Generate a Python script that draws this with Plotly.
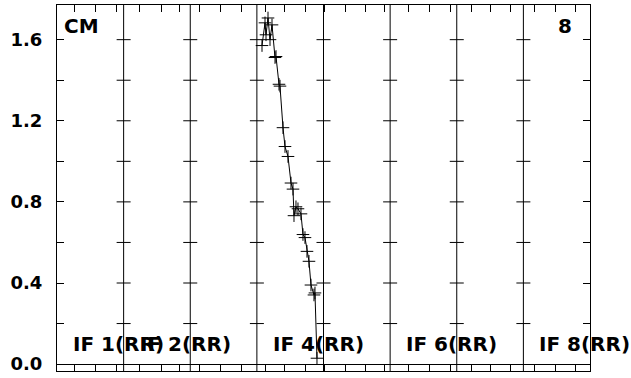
import plotly.graph_objects as go

# ---- data ----
panel_labels = ["IF 1(RR)", "IF 2(RR)", "IF 4(RR)", "IF 6(RR)", "IF 8(RR)"]
panel_label_pos = [0, 1, 3, 5, 7]          # panel index where each label sits
n_panels = 8

# curve (x in panel units: panel k spans k..k+1)
x_vals = [3.077, 3.122, 3.137, 3.167, 3.197, 3.227, 3.272, 3.287, 3.332, 3.347,
          3.392, 3.422, 3.467, 3.512, 3.542, 3.557, 3.587, 3.617, 3.662, 3.692,
          3.722, 3.752, 3.782, 3.812, 3.857, 3.872, 3.902]
y_vals = [1.571, 1.683, 1.624, 1.707, 1.600, 1.673, 1.512, 1.517, 1.380, 1.371,
          1.166, 1.073, 1.024, 0.893, 0.863, 0.732, 0.776, 0.766, 0.741, 0.639,
          0.624, 0.556, 0.507, 0.390, 0.341, 0.351, 0.029]

x_ticks = [0.270, 0.585, 0.886, 1.231, 1.561, 1.846, 2.146, 2.447, 2.762,
           3.122, 3.422, 3.737, 4.022, 4.323, 4.623, 4.923, 5.283, 5.598,
           5.899, 6.214, 6.499, 6.814, 7.174, 7.475, 7.775]
y_ticks = [0.0, 0.2, 0.4, 0.6, 0.8, 1.0, 1.2, 1.4, 1.6]
y_ticktext = ["0.0", "", "0.4", "", "0.8", "", "1.2", "", "1.6"]

y_range = [-0.034, 1.771]
FONT = "DejaVu Sans"

fig = go.Figure()
fig.add_trace(go.Scatter(
    x=x_vals, y=y_vals, mode="lines+markers",
    line=dict(color="black", width=1),
    marker=dict(symbol="cross-thin", size=9, color="black",
                line=dict(color="black", width=1)),
    showlegend=False, hoverinfo="skip"))

shapes = []
for b in range(1, n_panels):
    shapes.append(dict(type="line", xref="x", yref="y", x0=b, x1=b,
                       y0=y_range[0], y1=y_range[1],
                       line=dict(color="black", width=1)))
    for yv in y_ticks[1:]:
        shapes.append(dict(type="line", xref="x", yref="y",
                           xsizemode="pixel", xanchor=b, x0=-7, x1=7,
                           y0=yv, y1=yv, line=dict(color="black", width=1)))

annotations = []
for lab, p in zip(panel_labels, panel_label_pos):
    annotations.append(dict(text="<b>%s</b>" % lab, x=p, y=0.10, xref="x", yref="y",
                            xanchor="left", yanchor="middle", xshift=14,
                            showarrow=False,
                            font=dict(family=FONT, size=20, color="black")))
annotations.append(dict(text="<b>CM</b>", x=0, y=1.666, xref="x", yref="y",
                        xanchor="left", yanchor="middle", xshift=5, showarrow=False,
                        font=dict(family=FONT, size=20, color="black")))
annotations.append(dict(text="<b>8</b>", x=n_panels, y=1.666, xref="x", yref="y",
                        xanchor="right", yanchor="middle", xshift=-16, showarrow=False,
                        font=dict(family=FONT, size=20, color="black")))

fig.update_layout(
    width=631, height=378,
    margin=dict(l=57, r=41, t=5, b=4),
    plot_bgcolor="white", paper_bgcolor="white",
    shapes=shapes, annotations=annotations,
    font=dict(family=FONT, color="black"),
    xaxis=dict(range=[0, n_panels], tickvals=x_ticks, showticklabels=False,
               ticks="inside", ticklen=7, tickcolor="black", tickwidth=1,
               showgrid=False, zeroline=False, showline=True, linecolor="black",
               linewidth=1, mirror="ticks"),
    yaxis=dict(range=y_range, tickvals=y_ticks, ticktext=y_ticktext,
               ticks="inside", ticklen=7, tickcolor="black", tickwidth=1,
               tickfont=dict(family=FONT, size=18, color="black", weight="bold"),
               ticklabelstandoff=10,
               showgrid=False, zeroline=True, zerolinecolor="black", zerolinewidth=1,
               showline=True, linecolor="black", linewidth=1, mirror="ticks"),
)

fig.write_html("out.html", config={"displayModeBar": False},
               post_script="document.body.style.margin='0';")
